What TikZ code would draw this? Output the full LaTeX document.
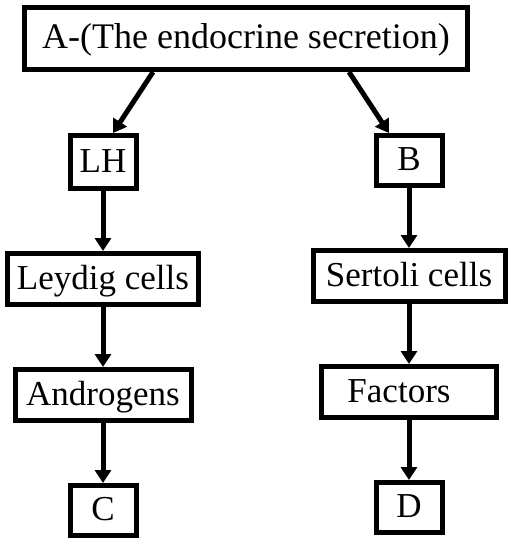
\documentclass[tikz,border=0pt]{standalone}
\usepackage{fontspec}
\setmainfont{Liberation Serif}
\usetikzlibrary{arrows.meta,positioning}

\begin{document}
\begin{tikzpicture}[
        x=1pt, y=-1pt,
        node distance=60pt,
        font=\fontsize{35}{42}\selectfont,
        boxed/.style={draw, line width=5pt, inner sep=2pt, text height=26pt, text depth=6pt, minimum height=51pt},
        pointer/.style={-{Triangle[length=13pt, width=16pt]}, line width=5pt}
    ]
        \useasboundingbox (0,0) rectangle (514,544);

        \node[boxed, font=\fontsize{36}{42}\selectfont, minimum width=443pt, minimum height=62pt] (secretion) at (246,38.5) {A-(The endocrine secretion)};

        \node[boxed, minimum width=66pt, minimum height=53pt] (lh) at (103,162) {LH};
        \node[boxed, minimum width=191pt, below=of lh] (leydig) {Leydig cells};
        \node[boxed, minimum width=176pt, below=of leydig] (androgens) {Androgens};
        \node[boxed, minimum width=66pt, minimum height=50pt, below=of androgens] (c) {C};

        \node[boxed, minimum width=66pt, minimum height=50pt] (b) at (409,160.5) {B};
        \node[boxed, minimum width=192pt, below=of b] (sertoli) {Sertoli cells};
        \node[boxed, minimum width=175pt, below=of sertoli] (factors) {Factors\kern20pt};
        \node[boxed, minimum width=66pt, minimum height=50pt, below=of factors] (d) {D};

        \draw[pointer] ([xshift=-93pt]secretion.south) -- ([xshift=10pt]lh.north);
        \draw[pointer] ([xshift=103pt]secretion.south) -- ([xshift=-20pt]b.north);
        \draw[pointer] (lh) -- (leydig);
        \draw[pointer] (leydig) -- (androgens);
        \draw[pointer] (androgens) -- (c);
        \draw[pointer] (b) -- (sertoli);
        \draw[pointer] (sertoli) -- (factors);
        \draw[pointer] (factors) -- (d);
    \end{tikzpicture}
\end{document}
